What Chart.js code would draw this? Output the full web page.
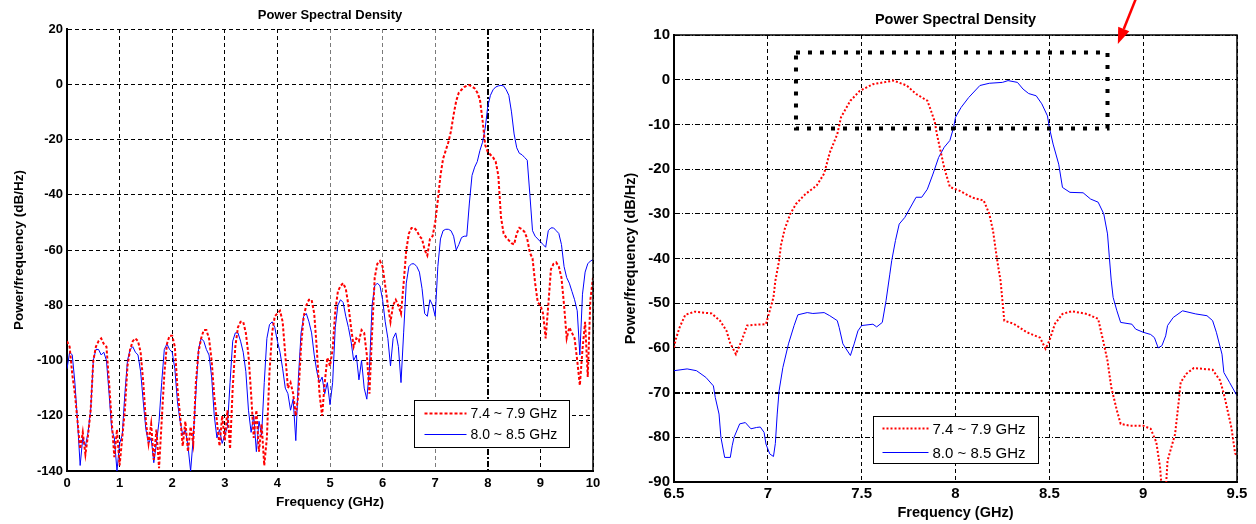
<!DOCTYPE html>
<html>
<head>
<meta charset="utf-8">
<title>Power Spectral Density</title>
<script src="https://cdn.jsdelivr.net/npm/chart.js@4"></script>
<style>
  html, body { margin: 0; padding: 0; background: #fff; }
  #wrap { position: relative; width: 1256px; height: 524px; }
  .panel { position: absolute; top: 0; height: 524px; }
  #left { left: 0; width: 620px; }
  #right { left: 620px; width: 636px; }
</style>
</head>
<body>
<div id="wrap">
  <div class="panel" id="left"><canvas id="psdFull" width="620" height="524"></canvas></div>
  <div class="panel" id="right"><canvas id="psdZoom" width="636" height="524"></canvas></div>
</div>
<script>
// legend labels for the two bands
const seriesLabels = ['7.4 ~ 7.9 GHz', '8.0 ~ 8.5 GHz'];

// full span 0 - 10 GHz, sampled every 50 MHz
const fullFreq = [
  0, 0.05, 0.1, 0.15, 0.2, 0.25, 0.3, 0.35, 0.4, 0.45,
  0.5, 0.55, 0.6, 0.65, 0.7, 0.75, 0.8, 0.85, 0.9, 0.95,
  1, 1.05, 1.1, 1.15, 1.2, 1.25, 1.3, 1.35, 1.4, 1.45,
  1.5, 1.55, 1.6, 1.65, 1.7, 1.75, 1.8, 1.85, 1.9, 1.95,
  2, 2.05, 2.1, 2.15, 2.2, 2.25, 2.3, 2.35, 2.4, 2.45,
  2.5, 2.55, 2.6, 2.65, 2.7, 2.75, 2.8, 2.85, 2.9, 2.95,
  3, 3.05, 3.1, 3.15, 3.2, 3.25, 3.3, 3.35, 3.4, 3.45,
  3.5, 3.55, 3.6, 3.65, 3.7, 3.75, 3.8, 3.85, 3.9, 3.95,
  4, 4.05, 4.1, 4.15, 4.2, 4.25, 4.3, 4.35, 4.4, 4.45,
  4.5, 4.55, 4.6, 4.65, 4.7, 4.75, 4.8, 4.85, 4.9, 4.95,
  5, 5.05, 5.1, 5.15, 5.2, 5.25, 5.3, 5.35, 5.4, 5.45,
  5.5, 5.55, 5.6, 5.65, 5.7, 5.75, 5.8, 5.85, 5.9, 5.95,
  6, 6.05, 6.1, 6.15, 6.2, 6.25, 6.3, 6.35, 6.4, 6.45,
  6.5, 6.55, 6.6, 6.65, 6.7, 6.75, 6.8, 6.85, 6.9, 6.95,
  7, 7.05, 7.1, 7.15, 7.2, 7.25, 7.3, 7.35, 7.4, 7.45,
  7.5, 7.55, 7.6, 7.65, 7.7, 7.75, 7.8, 7.85, 7.9, 7.95,
  8, 8.05, 8.1, 8.15, 8.2, 8.25, 8.3, 8.35, 8.4, 8.45,
  8.5, 8.55, 8.6, 8.65, 8.7, 8.75, 8.8, 8.85, 8.9, 8.95,
  9, 9.05, 9.1, 9.15, 9.2, 9.25, 9.3, 9.35, 9.4, 9.45,
  9.5, 9.55, 9.6, 9.65, 9.7, 9.75, 9.8, 9.85, 9.9, 9.95,
  10
];
const fullLowBand = [
  -93, -95, -105, -112, -122, -132, -126, -134, -127, -118,
  -100, -95, -93, -92, -94, -95, -108, -122, -135, -125,
  -138, -128, -118, -102, -96, -93, -92, -93, -97, -108,
  -122, -130, -123, -136, -125, -139, -122, -105, -94, -91,
  -91, -95, -110, -120, -131, -122, -133, -124, -130, -108,
  -97, -92, -89, -89, -92, -100, -113, -122, -131, -120,
  -129, -118, -132, -110, -95, -88, -86, -86, -90, -98,
  -112, -128, -118, -133, -123, -138, -128, -104, -90, -84,
  -83, -82, -86, -98, -110, -108, -112, -120, -112, -95,
  -84, -80, -78, -78, -83, -96, -112, -120, -108, -99,
  -102, -96, -82, -75, -73, -72, -74, -80, -88, -95,
  -92, -93, -89, -90, -98, -112, -90, -70, -65, -64,
  -66, -73, -80, -86, -80, -78, -80, -83, -72, -60,
  -54, -52, -52, -53, -55, -56, -60, -62, -56, -55,
  -50, -42, -33, -27, -24, -21, -17, -11, -6, -3,
  -2, -1, -0.5, -0.3, -0.8, -1.5, -3, -5.5, -13, -22,
  -24.5, -25.5, -26.5, -28, -33, -48, -54, -55.5, -56.5, -57.5,
  -58, -54, -52, -52.5, -53.5, -56, -61, -63, -72, -79,
  -80, -83, -92, -80, -67, -65, -64.5, -66, -70, -80,
  -92, -88, -90, -92, -100, -109, -96, -86, -106, -78,
  -70
];
const fullHighBand = [
  -103, -97, -98, -108, -122, -138, -128, -131, -126, -118,
  -100, -96, -96, -98, -97, -100, -112, -125, -128, -140,
  -130, -127, -112, -100, -96, -95, -97, -98, -104, -115,
  -125, -130, -128, -137, -130, -122, -108, -96, -94, -96,
  -97, -103, -115, -122, -127, -125, -131, -140, -128, -112,
  -96, -92, -93, -96, -98, -106, -120, -128, -125, -130,
  -127, -124, -108, -93, -90, -90, -93, -97, -104, -118,
  -126, -120, -133, -122, -127, -108, -92, -87, -86, -88,
  -93, -97, -103, -110, -112, -118, -114, -129, -106, -90,
  -84, -83, -86, -90, -98, -104, -108, -106, -112, -108,
  -116, -108, -88, -80, -78, -79, -84, -88, -93, -100,
  -98, -107, -100, -110, -114, -103, -80, -73, -72, -73,
  -78, -86, -92, -102, -92, -90, -95, -108, -90, -72,
  -66, -65, -65, -66, -68, -74, -83, -84, -78, -80,
  -84, -66, -56, -53, -52.5, -52.5, -53, -55, -60, -58,
  -55.5, -55, -55, -43, -33, -30, -28, -24, -21, -16,
  -8, -4, -2, -1, -0.6, -0.4, -0.6, -2, -4, -10,
  -18, -23, -25, -25.5, -26.5, -27.5, -40, -53, -55, -56,
  -57, -58, -59, -53, -52, -52, -53, -54, -58, -66,
  -70, -72, -75, -78, -82, -98, -76, -68, -65, -64,
  -63.5
];

// close-up 6.5 - 9.5 GHz
const zoomLowFreq = [
  6.5, 6.51, 6.53, 6.56, 6.61, 6.7, 6.745, 6.78, 6.8, 6.83, 6.86, 6.89, 6.94, 6.99,
  7.01, 7.03, 7.04, 7.06, 7.07, 7.09, 7.12, 7.15, 7.2, 7.26, 7.3, 7.33, 7.37, 7.39,
  7.44, 7.49, 7.56, 7.67, 7.74, 7.79, 7.85, 7.87, 7.89, 7.9, 7.92, 7.94, 7.97, 8.02,
  8.09, 8.15, 8.18, 8.2, 8.22, 8.24, 8.25, 8.26, 8.31, 8.38, 8.45, 8.48, 8.5, 8.53,
  8.57, 8.62, 8.7, 8.76, 8.79, 8.81, 8.83, 8.86, 8.88, 8.93, 9, 9.04, 9.07, 9.09,
  9.1, 9.12, 9.13, 9.17, 9.19, 9.2, 9.23, 9.27, 9.37, 9.41, 9.43, 9.45, 9.47, 9.49, 9.5
];
const zoomLowBand = [
  -59.9, -58, -55.4, -52.6, -51.9, -52.3, -53.9, -56.2, -59, -61.4, -58.4, -55, -54.8, -54.7,
  -51.7, -48.7, -45, -40.5, -37, -33.4, -30, -27.8, -25.6, -23.7, -21, -16.3, -12.2, -8.4,
  -4.7, -2.5, -1, -0.2, -1.3, -3.2, -4.7, -7, -9.5, -12, -15.9, -19.7, -24, -24.8,
  -26.4, -27, -30, -33.8, -39.8, -45, -49.4, -53.9, -54.6, -56.5, -57.7, -60.2, -58.4, -54.6,
  -52.4, -51.8, -52.4, -53.5, -59, -62.9, -68.8, -74, -77, -77.4, -77.4, -78.1, -81.1, -86.7,
  -92, -92, -85.2, -79.3, -71.8, -67.7, -65.8, -64.5, -64.9, -67.3, -70.3, -74, -77.8, -83.6, -84
];
const zoomHighFreq = [
  6.5, 6.57, 6.62, 6.67, 6.71, 6.72, 6.74, 6.75, 6.77, 6.8, 6.81, 6.82, 6.85, 6.88,
  6.91, 6.94, 6.96, 6.98, 6.99, 7.01, 7.03, 7.04, 7.05, 7.06, 7.08, 7.11, 7.14, 7.16,
  7.21, 7.24, 7.3, 7.33, 7.37, 7.38, 7.4, 7.44, 7.46, 7.48, 7.5, 7.56, 7.58, 7.61,
  7.63, 7.65, 7.66, 7.68, 7.7, 7.73, 7.77, 7.79, 7.82, 7.85, 7.88, 7.91, 7.94, 7.97,
  7.99, 8, 8.03, 8.07, 8.13, 8.18, 8.25, 8.28, 8.33, 8.36, 8.39, 8.43, 8.46, 8.49,
  8.5, 8.52, 8.55, 8.57, 8.61, 8.68, 8.72, 8.76, 8.79, 8.81, 8.82, 8.83, 8.84, 8.86,
  8.88, 8.94, 8.96, 9, 9.04, 9.06, 9.08, 9.1, 9.12, 9.13, 9.16, 9.21, 9.28, 9.34,
  9.37, 9.39, 9.42, 9.43, 9.46, 9.5
];
const zoomHighBand = [
  -65.1, -64.7, -65.1, -66.6, -68.5, -71.1, -74.8, -80, -84.5, -84.5, -81.9, -80, -77, -76.7,
  -78.1, -77.8, -77.7, -78.9, -81.5, -83.7, -84.3, -81.4, -74.8, -69.6, -64.4, -59.1, -55, -52.6,
  -52.1, -52.3, -52.1, -52.8, -53.9, -55.4, -59.1, -61.7, -59.1, -56.2, -55, -54.7, -55.3, -54.3,
  -49.4, -43.5, -40.5, -36, -32.3, -30.8, -27.8, -26.3, -26.3, -24.5, -21.1, -17.4, -15.1, -13.6,
  -10.7, -8.4, -6.2, -4, -1.3, -0.8, -0.6, -0.2, -0.6, -2.1, -3.1, -3.6, -5.4, -8.1,
  -10.7, -14.4, -18.9, -24.1, -25.2, -25.3, -26.7, -27.4, -30, -34.5, -39.8, -45, -48.7, -51.7,
  -54.3, -54.7, -55.8, -56.5, -57, -57.7, -60, -59.5, -57.3, -55, -53.2, -51.7, -52.4, -52.8,
  -53.9, -56.5, -61.4, -65.5, -67.7, -70.7
];

// dotted highlight around the passband tops: [fromGHz, toGHz, topDb, bottomDb]
const highlightBox = [7.15, 8.81, 6.1, -10.9];
// red pointer: tail and tip as [GHz, dB]
const pointerTail = [8.96, 18];
const pointerTip = [8.865, 8];

const FONT = 'Liberation Sans, Arial, sans-serif';

function pairs(xs, ys) {
  return xs.map((x, i) => ({x: x, y: ys[i]}));
}

// frame edges Chart.js does not draw, the boxed legend, highlight and pointer
const panelDecor = {
  id: 'panelDecor',
  afterDatasetsDraw(chart, args, o) {
    if (!o.box) return;
    const {ctx, scales: {x, y}} = chart;
    const x0 = x.getPixelForValue(o.box[0]), x1 = x.getPixelForValue(o.box[1]);
    const y0 = y.getPixelForValue(o.box[2]), y1 = y.getPixelForValue(o.box[3]);
    ctx.save();
    ctx.strokeStyle = '#000';
    ctx.lineWidth = 4;
    ctx.setLineDash([4, 8]);
    ctx.strokeRect(x0, y0, x1 - x0, y1 - y0);
    ctx.restore();
  },
  afterDraw(chart, args, o) {
    const {ctx, chartArea: a, scales: {x, y}} = chart;
    ctx.save();
    ctx.strokeStyle = '#000';
    ctx.lineWidth = 1.5;
    ctx.beginPath();
    ctx.moveTo(a.right, a.bottom);
    ctx.lineTo(a.right, a.top);
    if (o.topEdge) ctx.lineTo(a.left, a.top);
    ctx.stroke();

    // legend box
    const L = o.legend;
    const bx = Math.round(a.left + L.dx) + 0.5, by = Math.round(a.bottom + L.dy) + 0.5;
    ctx.fillStyle = '#fff';
    ctx.fillRect(bx, by, L.w, L.h);
    ctx.lineWidth = 1;
    ctx.strokeRect(bx, by, L.w, L.h);
    ctx.font = L.size + 'px ' + FONT;
    ctx.textBaseline = 'middle';
    chart.data.datasets.forEach((ds, i) => {
      const ry = by + L.rows[i];
      ctx.save();
      ctx.strokeStyle = ds.borderColor;
      ctx.lineWidth = ds.borderWidth;
      ctx.setLineDash(ds.borderDash || []);
      ctx.beginPath();
      ctx.moveTo(bx + L.pad, ry);
      ctx.lineTo(bx + L.pad + L.sample, ry);
      ctx.stroke();
      ctx.restore();
      ctx.fillStyle = '#000';
      ctx.fillText(ds.label, bx + L.pad + L.sample + 4, ry + 1);
    });

    if (o.pointer) {
      const tx = x.getPixelForValue(o.pointer.tail[0]), ty = y.getPixelForValue(o.pointer.tail[1]);
      const px = x.getPixelForValue(o.pointer.tip[0]), py = y.getPixelForValue(o.pointer.tip[1]);
      const ang = Math.atan2(py - ty, px - tx);
      const head = 16, half = 6;
      const hx = px - head * Math.cos(ang), hy = py - head * Math.sin(ang);
      ctx.strokeStyle = '#ff0000';
      ctx.fillStyle = '#ff0000';
      ctx.lineWidth = 2.5;
      ctx.beginPath();
      ctx.moveTo(tx, ty);
      ctx.lineTo(hx, hy);
      ctx.stroke();
      ctx.beginPath();
      ctx.moveTo(px, py);
      ctx.lineTo(hx + half * Math.sin(ang), hy - half * Math.cos(ang));
      ctx.lineTo(hx - half * Math.sin(ang), hy + half * Math.cos(ang));
      ctx.closePath();
      ctx.fill();
    }
    ctx.restore();
  }
};

function isTick(c, v) {
  return c.tick !== undefined && Math.abs(c.tick.value - v) < 1e-9;
}

//left panel: whole 0 - 10 GHz span
new Chart(document.getElementById('psdFull'), {
  type: 'line',
  data: {
    datasets: [{
      label: seriesLabels[0],
      data: pairs(fullFreq, fullLowBand),
      borderColor: '#ff0000',
      borderWidth: 2,
      borderDash: [3, 2],
      pointRadius: 0,
      clip: 0
    }, {
      label: seriesLabels[1],
      data: pairs(fullFreq, fullHighBand),
      borderColor: '#0000ff',
      borderWidth: 1,
      pointRadius: 0,
      clip: 0
    }]
  },
  plugins: [panelDecor],
  options: {
    responsive: false,
    animation: false,
    layout: {padding: {left: 0, right: 27, top: 0, bottom: 0}},
    scales: {
      x: {
        type: 'linear',
        min: 0,
        max: 10,
        afterFit: (s) => { s.height = 53; },
        ticks: {stepSize: 1, maxRotation: 0, padding: 5, color: '#000',
          font: {family: FONT, size: 13, weight: 'bold'}, callback: (v) => String(v)},
        grid: {
          drawTicks: false,
          color: (c) => (isTick(c, 5) || isTick(c, 6) || isTick(c, 7)) ? '#7a7a7a' : '#000',
          lineWidth: (c) => isTick(c, 8) ? 2 : 1
        },
        border: {display: true, width: 2, color: '#000',
          dash: (c) => isTick(c, 8) ? [6, 2, 2, 2] : [4, 3]},
        title: {display: true, text: 'Frequency (GHz)', color: '#000',
          font: {family: FONT, size: 13.5, weight: 'bold'}, padding: {top: 0, bottom: 13.4}}
      },
      y: {
        min: -140,
        max: 20,
        afterFit: (s) => { s.width = 67; },
        ticks: {stepSize: 20, padding: 4, color: '#000',
          font: {family: FONT, size: 13, weight: 'bold'}, callback: (v) => String(v)},
        grid: {drawTicks: false, color: '#000', lineWidth: 1},
        border: {display: true, width: 2, color: '#000', dash: [4, 3]},
        title: {display: true, text: 'Power/frequency (dB/Hz)', color: '#000',
          font: {family: FONT, size: 13.5, weight: 'bold'}, padding: {top: 11, bottom: 0}}
      }
    },
    plugins: {
      legend: {display: false},
      tooltip: {enabled: false},
      title: {display: true, text: 'Power Spectral Density', color: '#000', fullSize: false,
        font: {family: FONT, size: 13, weight: 'bold'}, padding: {top: 7.4, bottom: 6}},
      panelDecor: {
        topEdge: false,
        legend: {dx: 347, dy: -71, w: 155, h: 47, rows: [13, 34], pad: 10, sample: 42, size: 14}
      }
    }
  }
});

// right panel: close-up of both passbands
new Chart(document.getElementById('psdZoom'), {
  type: 'line',
  data: {
    datasets: [{
      label: seriesLabels[0],
      data: pairs(zoomLowFreq, zoomLowBand),
      borderColor: '#ff0000',
      borderWidth: 2,
      borderDash: [2, 2],
      pointRadius: 0,
      clip: 0
    }, {
      label: seriesLabels[1],
      data: pairs(zoomHighFreq, zoomHighBand),
      borderColor: '#0000ff',
      borderWidth: 1,
      pointRadius: 0,
      clip: 0
    }]
  },
  plugins: [panelDecor],
  options: {
    responsive: false,
    animation: false,
    layout: {padding: {left: 0, right: 19, top: 0, bottom: 0}},
    scales: {
      x: {
        type: 'linear',
        min: 6.5,
        max: 9.5,
        afterFit: (s) => { s.height = 42; },
        ticks: {stepSize: 0.5, maxRotation: 0, padding: 3, color: '#000',
          font: {family: FONT, size: 15, weight: 'bold'}, callback: (v) => String(v)},
        grid: {drawTicks: false, color: '#000', lineWidth: 1},
        border: {display: true, width: 2, color: '#000', dash: [4, 3]},
        title: {display: true, text: 'Frequency (GHz)', color: '#000',
          font: {family: FONT, size: 14.5, weight: 'bold'}, padding: {top: 0, bottom: 2.3}}
      },
      y: {
        min: -90,
        max: 10,
        afterFit: (s) => { s.width = 54; },
        ticks: {stepSize: 10, padding: 4, color: '#000',
          font: {family: FONT, size: 15, weight: 'bold'}, callback: (v) => String(v)},
        grid: {drawTicks: false, color: '#000', lineWidth: (c) => isTick(c, -70) ? 2 : 1},
        border: {display: true, width: 2, color: '#000', dash: [5, 2, 1, 2]},
        title: {display: true, text: 'Power/frequency (dB/Hz)', color: '#000',
          font: {family: FONT, size: 14.5, weight: 'bold'}, padding: {top: 1.8, bottom: 0}}
      }
    },
    plugins: {
      legend: {display: false},
      tooltip: {enabled: false},
      title: {display: true, text: 'Power Spectral Density', color: '#000', fullSize: false,
        font: {family: FONT, size: 14.5, weight: 'bold'}, padding: {top: 11.3, bottom: 6.3}},
      panelDecor: {
        topEdge: true,
        box: highlightBox,
        pointer: {tail: pointerTail, tip: pointerTip},
        legend: {dx: 199, dy: -66, w: 165, h: 47, rows: [12, 36], pad: 9, sample: 46, size: 15}
      }
    }
  }
});
</script>
</body>
</html>
